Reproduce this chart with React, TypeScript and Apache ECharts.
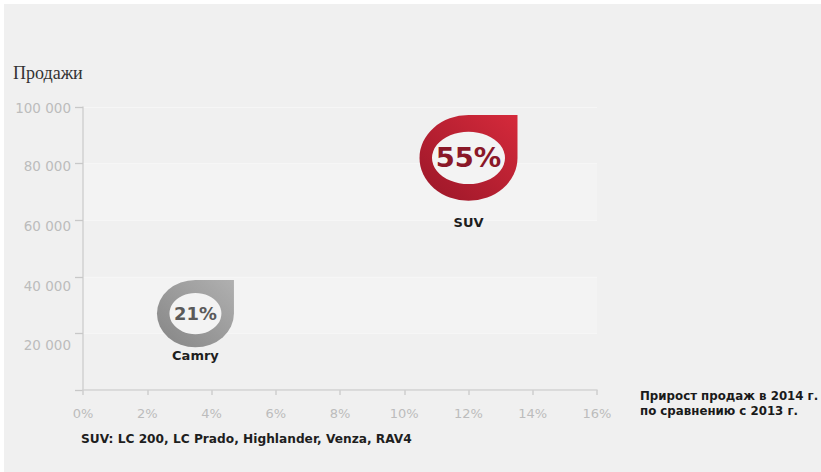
import React, { useEffect, useRef } from "react";
import * as echarts from "echarts";

// ---- data ----
const models = ["Camry", "SUV"];
const growthPct = [3.5, 12]; // x: прирост продаж, %
const sales = [27000, 82000]; // y: продажи
const sharePct = [21, 55]; // label inside marker

const xTicks = { min: 0, max: 16, interval: 2 };
const yTicks = { min: 0, max: 100000, interval: 20000 };

const yTitle = "Продажи";
const xTitleLines = ["Прирост продаж в 2014 г.", "по сравнению с 2013 г."];
const footnote = "SUV: LC 200, LC Prado, Highlander, Venza, RAV4";

const DROP = "path://M50 0 L100 0 L100 50 A50 50 0 1 1 50 0 Z";

const FONT = "'DejaVu Sans', 'Open Sans', sans-serif";

function fmtThousands(v: number) {
  return String(v).replace(/\B(?=(\d{3})+(?!\d))/g, " ");
}

function outerSize(share: number): [number, number] {
  const w = 64 + share * 0.618;
  return [w, w * 0.875];
}
function innerSize(share: number): [number, number] {
  const [w, h] = outerSize(share);
  return [w - 25, h * 0.61];
}

const palettes: Record<string, { dark: string; light: string; text: string }> = {
  Camry: { dark: "#858585", light: "#b0b0b0", text: "#5a5a5a" },
  SUV: { dark: "#9a1628", light: "#d52a3b", text: "#8a1828" },
};

export default function App() {
  const ref = useRef<HTMLDivElement>(null);

  useEffect(() => {
    if (!ref.current) return;
    const chart = echarts.init(ref.current, undefined, { renderer: "svg" });

    const outerData = models.map((name, i) => {
      const p = palettes[name];
      const [w] = outerSize(sharePct[i]);
      return {
        name,
        value: [growthPct[i], sales[i]],
        symbolSize: outerSize(sharePct[i]),
        itemStyle: {
          opacity: 1,
          color: new echarts.graphic.LinearGradient(0, 1, 1, 0, [
            { offset: 0, color: p.dark },
            { offset: 1, color: p.light },
          ]),
        },
        label: {
          show: true,
          position: "bottom",
          distance: (w - 77) * 0.65 + 2,
          formatter: "{b}",
          color: "#1e1e1e",
          fontFamily: FONT,
          fontWeight: "bold",
          fontSize: 13,
        },
      };
    });

    const innerData = models.map((name, i) => {
      const p = palettes[name];
      return {
        name,
        value: [growthPct[i], sales[i]],
        symbolSize: innerSize(sharePct[i]),
        itemStyle: { color: "#f3f3f3", opacity: 1 },
        label: {
          show: true,
          position: "inside",
          formatter: `${sharePct[i]}%`,
          color: p.text,
          fontFamily: FONT,
          fontWeight: "bold",
          fontSize: 12 + 0.28 * sharePct[i],
        },
      };
    });

    const yPad: Record<string, any> = {};
    for (let k = 1; k <= 5; k++) {
      const off = [0, 12, 9, 6, 2, 1][k];
      yPad["o" + k] = {
        padding: [off * 2, 0, 0, 0],
        color: "#bcbcbc",
        fontFamily: FONT,
        fontSize: 13.5,
      };
    }

    chart.setOption({
      animation: false,
      backgroundColor: "#f0f0f0",
      grid: { left: 79, top: 103, width: 514, height: 283 },
      xAxis: [
        {
          type: "value",
          ...xTicks,
          position: "bottom",
          axisLine: { show: true, lineStyle: { color: "#d2d2d2", width: 1.5 } },
          axisTick: { show: false },
          axisLabel: { show: false },
          splitLine: { show: false },
        },
        {
          type: "value",
          ...xTicks,
          position: "bottom",
          offset: 10,
          axisLine: { show: false },
          axisTick: { show: true, length: 5, lineStyle: { color: "#cfcfcf", width: 1.5 } },
          axisLabel: {
            margin: 7,
            color: "#bcbcbc",
            fontFamily: FONT,
            fontSize: 13,
            formatter: "{value}%",
          },
          splitLine: { show: false },
        },
      ],
      yAxis: [
        {
          type: "value",
          ...yTicks,
          position: "left",
          axisLine: { show: true, lineStyle: { color: "#d2d2d2", width: 1.5 } },
          axisTick: { show: false },
          axisLabel: { show: false },
          splitLine: { show: true, lineStyle: { color: "#f6f6f6", width: 1 } },
          splitArea: { show: true, areaStyle: { color: ["#f0f0f0", "#f3f3f3"] } },
        },
        {
          type: "value",
          ...yTicks,
          position: "left",
          offset: 6,
          axisLine: { show: false },
          axisTick: { show: true, length: 8, lineStyle: { color: "#c8c8c8", width: 1.3 } },
          axisLabel: {
            margin: 6,
            formatter: (v: number) =>
              v === 0 ? "" : `{o${v / yTicks.interval}|${fmtThousands(v)}}`,
            rich: yPad,
          },
          splitLine: { show: false },
        },
      ],
      graphic: [
        {
          type: "text",
          left: 9,
          top: 60,
          style: {
            text: yTitle,
            fill: "#333",
            font: "18px 'Liberation Serif', 'DejaVu Serif', serif",
          },
        },
        {
          type: "text",
          left: 636,
          top: 384,
          style: {
            text: xTitleLines.join("\n"),
            fill: "#1a1a1a",
            font: `bold 11.8px ${FONT}`,
            lineHeight: 15,
          },
        },
        {
          type: "text",
          left: 77,
          top: 429,
          style: {
            text: footnote,
            fill: "#1e1e1e",
            font: `bold 12.2px ${FONT}`,
          },
        },
      ],
      series: [
        {
          type: "scatter",
          xAxisIndex: 0,
          yAxisIndex: 0,
          symbol: DROP,
          data: outerData,
          z: 2,
        },
        {
          type: "scatter",
          xAxisIndex: 0,
          yAxisIndex: 0,
          symbol: "circle",
          data: innerData,
          z: 3,
        },
      ],
    });

    return () => chart.dispose();
  }, []);

  return (
    <div style={{ position: "fixed", inset: 0, background: "#ffffff" }}>
      <div
        ref={ref}
        style={{ position: "absolute", left: 4, top: 4, width: 817, height: 468 }}
      />
    </div>
  );
}
